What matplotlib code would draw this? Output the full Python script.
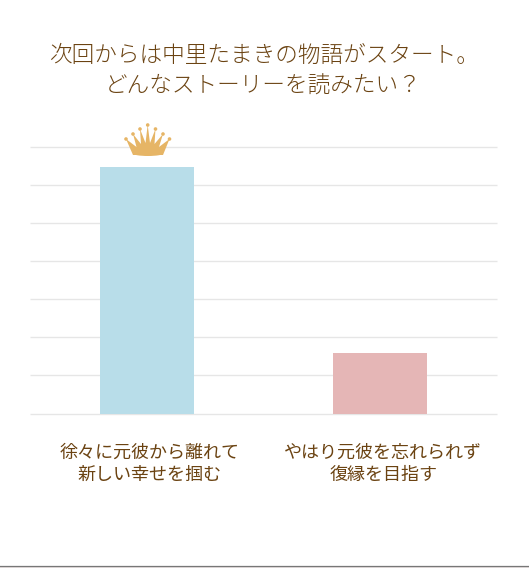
import matplotlib.pyplot as plt
from matplotlib.patches import Polygon, Ellipse
from matplotlib.lines import Line2D
from matplotlib.transforms import ScaledTranslation

plt.rcParams['font.family'] = ['Noto Sans CJK JP', 'DejaVu Sans']

title = "次回からは中里たまきの物語がスタート。\nどんなストーリーを読みたい？"
labels = ["徐々に元彼から離れて\n新しい幸せを掴む", "やはり元彼を忘れられず\n復縁を目指す"]
values = [64.7, 15.8]
colors = ["#b8dde9", "#e5b6b6"]
text_col = "#6b4312"
W, H = 529, 568

fig = plt.figure(figsize=(W / 100, H / 100), dpi=100, facecolor="white")
# plot area in pixels: x 30-497, y 146.5-413.5
ax = fig.add_axes([30 / W, 1 - 413.5 / H, 467 / W, 267 / H])

x = range(len(values))
ax.bar(x, values, width=0.403, color=colors, zorder=3)
ax.set_xlim(-0.5, 1.5)
ax.set_ylim(0, 70)
ax.set_yticks(range(0, 71, 10))
ax.grid(axis="y", color="#e6e6e6", lw=1, clip_on=False, solid_capstyle="butt")
ax.set_axisbelow(True)
ax.tick_params(length=0, labelleft=False)
ax.set_xticks(list(x))
ax.set_xticklabels(labels, fontsize=13, color=text_col, linespacing=1.3)
ax.tick_params(axis="x", pad=22)
# labels sit 3px right of the bar centres
shift = ScaledTranslation(3 / 100, 0, fig.dpi_scale_trans)
for lab in ax.get_xticklabels():
    lab.set_transform(lab.get_transform() + shift)
for s in ax.spines.values():
    s.set_visible(False)

fig.text(263.5 / W, 1 - 70.5 / H, title, ha="center", va="center", fontsize=16.3,
         color=text_col, weight="light", linespacing=1.3)


# crown above the winning bar, drawn in pixel positions
def px(a, b):
    return (a / W, 1 - b / H)


gold = "#e6b566"
tips = [(126, 139), (133, 134), (140, 129), (147.7, 125), (155.5, 129), (163, 134), (169.5, 139)]
valleys = [(136.5, 147), (141, 144), (145.5, 143), (150, 143), (154.5, 144), (159, 147)]
pts = [px(133, 155)]
for i, t in enumerate(tips):
    pts.append(px(*t))
    if i < len(valleys):
        pts.append(px(*valleys[i]))
pts.append(px(163, 155))
fig.add_artist(Polygon(pts, closed=True, color=gold, lw=0, transform=fig.transFigure))
fig.add_artist(Ellipse(px(148, 153.5), 30 / W, 5 / H, color=gold, lw=0, transform=fig.transFigure))
for t in tips:
    fig.add_artist(Ellipse(px(*t), 3.6 / W, 3.6 / H, color=gold, lw=0, transform=fig.transFigure))

# dark edge at the foot of the image
fig.add_artist(Line2D([0, 1], [1 - 567 / H] * 2, color="#e4dcdc", lw=1.2, transform=fig.transFigure))
fig.add_artist(Line2D([0, 1], [1 - 565.5 / H] * 2, color="#777777", lw=0.9, transform=fig.transFigure))

fig.savefig("out.png", dpi=100)
